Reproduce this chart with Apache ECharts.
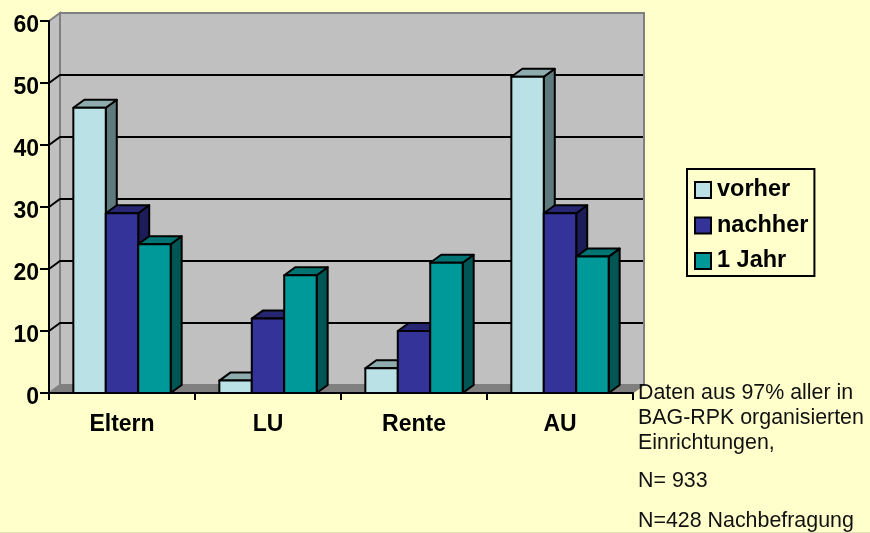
<!DOCTYPE html>
<html>
<head>
<meta charset="utf-8">
<style>
  html, body { margin: 0; padding: 0; background: #ffffcc; }
  #chart { width: 870px; height: 533px; }
</style>
<script src="https://cdn.jsdelivr.net/npm/echarts@6/dist/echarts.min.js"></script>
</head>
<body>
<div id="chart"></div>
<script>
const categories = ['Eltern', 'LU', 'Rente', 'AU']
const vorher = [46, 2, 4, 51]
const nachher = [29, 12, 10, 29]
const einJahr = [24, 19, 21, 22]
const yTicks = [0, 10, 20, 30, 40, 50, 60]
const noteLines = [
  'Daten aus 97% aller in',
  'BAG-RPK organisierten',
  'Einrichtungen,',
  'N= 933',
  'N=428 Nachbefragung'
]
const noteY = [393, 418, 443, 481, 521]

const FONT = '"Liberation Sans", Arial, sans-serif'
const DX = 11
const DY = -8
const GAP_RATIO = 4.5

// back wall, left wall, floor and the gridlines that run over them
function renderWall(params, api) {
  const val = api.value(0)
  const y = api.coord([0, val])[1]
  const band = api.size([1, 0])[0]
  const x0 = api.coord([0, 0])[0] - band / 2
  const x1 = x0 + band * categories.length
  const children = []
  if (val === 0) {
    const top = api.coord([0, yTicks[yTicks.length - 1]])[1]
    children.push({
      type: 'polygon',
      shape: { points: [[x0 + DX, top + DY], [x1 + DX, top + DY], [x1 + DX, y + DY], [x0 + DX, y + DY]] },
      style: { fill: '#c0c0c0', stroke: '#808080', lineWidth: 2 }
    })
    children.push({
      type: 'polygon',
      shape: { points: [[x0, top], [x0 + DX, top + DY], [x0 + DX, y + DY], [x0, y]] },
      style: { fill: '#c0c0c0', stroke: '#808080', lineWidth: 2 }
    })
    children.push({
      type: 'polygon',
      shape: { points: [[x0, y], [x0 + DX, y + DY], [x1 + DX, y + DY], [x1, y]] },
      style: { fill: '#808080', stroke: '#808080', lineWidth: 1 }
    })
  } else if (val < yTicks[yTicks.length - 1]) {
    children.push({
      type: 'polyline',
      shape: { points: [[x0, y], [x0 + DX, y + DY], [x1 + DX - 1, y + DY]] },
      style: { fill: null, stroke: '#000', lineWidth: 2 }
    })
  }
  return { type: 'group', children: children }
}

// one renderer per series, the 3d box sits on the library's own scale
function makeBars(seriesIdx, top, side) {
  return function(params, api) {
    const band = api.size([1, 0])[0]
    const w = band / GAP_RATIO
    const c = api.coord([api.value(0), api.value(1)])
    const base = api.coord([api.value(0), 0])[1]
    const x = c[0] + (seriesIdx - 1.5) * w
    const y = c[1]
    const line = { stroke: '#000', lineWidth: 2, lineJoin: 'round' }
    return {
      type: 'group',
      children: [
        {
          type: 'polygon',
          shape: { points: [[x + w, y], [x + w + DX, y + DY], [x + w + DX, base + DY], [x + w, base]] },
          style: Object.assign({ fill: side }, line)
        },
        {
          type: 'polygon',
          shape: { points: [[x, y], [x + DX, y + DY], [x + w + DX, y + DY], [x + w, y]] },
          style: Object.assign({ fill: top }, line)
        },
        {
          type: 'rect',
          shape: { x: x, y: y, width: w, height: base - y },
          style: Object.assign({ fill: api.visual('color') }, line)
        }
      ]
    }
  }
}

function barSeries(name, values, idx, color, top, side) {
  return {
    name: name,
    type: 'custom',
    clip: false,
    z: 3 + idx,
    itemStyle: { color: color, borderColor: '#000', borderWidth: 2 },
    renderItem: makeBars(idx, top, side),
    encode: { x: 0, y: 1 },
    data: values.map((v, i) => [i, v])
  }
}

const chart = echarts.init(document.getElementById('chart'))
window.addEventListener('resize', () => {
  chart.resize()
})

const noteGraphics = noteLines.map((t, i) => ({
  type: 'text',
  left: 638,
  top: noteY[i] - 10,
  z: 20,
  style: { text: t, fill: '#111', fontSize: 21.4, fontFamily: FONT }
}))
// thin slide edge along the bottom of the picture
noteGraphics.push({
  type: 'rect',
  left: 0,
  top: 532,
  z: 0,
  shape: { width: 870, height: 1 },
  style: { fill: '#e2e2b4' }
})

chart.setOption({
  backgroundColor: '#ffffcc',
  animation: false,
  textStyle: { fontFamily: FONT },
  grid: { left: 49, top: 21, width: 584, height: 372 },
  legend: {
    orient: 'vertical',
    left: 687,
    top: 169,
    padding: [9, 6, 3, 7],
    itemWidth: 16,
    itemHeight: 16,
    itemGap: 11.5,
    borderColor: '#000',
    borderWidth: 2,
    icon: 'rect',
    data: ['vorher', 'nachher', '1 Jahr'],
    textStyle: { color: '#000', fontSize: 23.5, fontWeight: 'bold', fontFamily: FONT, padding: [0, 0, 0, 1] }
  },
  xAxis: {
    type: 'category',
    data: categories,
    axisLine: { show: true, lineStyle: { color: '#000', width: 2 } },
    axisTick: { show: true, length: 7, lineStyle: { color: '#000', width: 2 } },
    axisLabel: { color: '#000', fontSize: 23, fontWeight: 'bold', fontFamily: FONT, margin: 20 },
    z: 10
  },
  yAxis: {
    type: 'value',
    min: 0,
    max: 60,
    interval: 10,
    splitLine: { show: false },
    axisLine: { show: true, lineStyle: { color: '#000', width: 2 } },
    axisTick: { show: true, length: 9, lineStyle: { color: '#000', width: 2 } },
    axisLabel: { color: '#000', fontSize: 23, fontWeight: 'bold', fontFamily: FONT, margin: 10, verticalAlign: 'top', lineHeight: 10 },
    z: 10
  },
  graphic: noteGraphics,
  series: [
    {
      name: 'wall',
      type: 'custom',
      clip: false,
      z: 1,
      silent: true,
      renderItem: renderWall,
      encode: { y: 0 },
      data: yTicks.map(v => [v])
    },
    barSeries('vorher', vorher, 0, '#b9e1e6', '#8eabae', '#5f7a7c'),
    barSeries('nachher', nachher, 1, '#333399', '#262673', '#1c1c58'),
    barSeries('1 Jahr', einJahr, 2, '#009999', '#007373', '#005555')
  ]
})
</script>
</body>
</html>
